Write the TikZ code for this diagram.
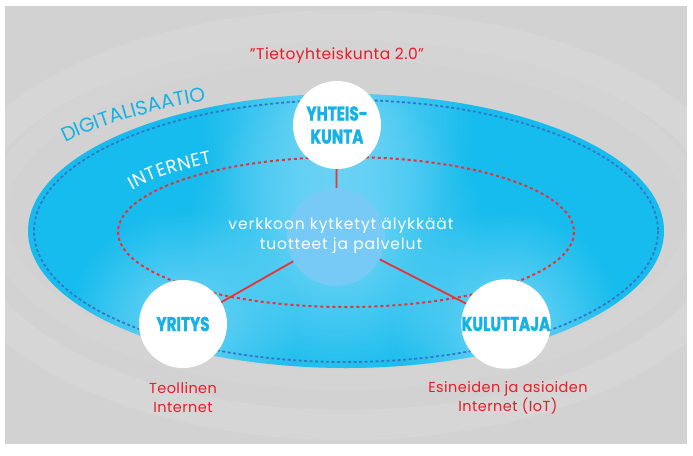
\documentclass[tikz,border=0pt]{standalone}
\usepackage{fontspec}
\setmainfont{Poppins}
\newfontfamily\hubfont[FakeStretch=0.76,FakeBold=1.5]{Poppins}
\usetikzlibrary{decorations.text,fadings}
\definecolor{bggray}{RGB}{210,210,210}
\definecolor{skyblue}{RGB}{22,188,237}
\definecolor{glowblue}{RGB}{120,214,246}
\definecolor{dotblue}{RGB}{52,120,195}
\definecolor{coreblue}{RGB}{118,202,245}
\definecolor{hubblue}{RGB}{22,178,230}
\definecolor{linkred}{RGB}{236,48,52}
\definecolor{notered}{RGB}{232,28,40}
\tikzfading[name=glowfade,inner color=transparent!0,outer color=transparent!100]

\begin{document}
\begin{tikzpicture}[x=1pt,y=-1pt,
    hub/.style={circle,fill=white,minimum size=88pt,inner sep=0pt,align=center,
      text=hubblue,font=\hubfont\bfseries\fontsize{20}{23}\selectfont},
    link/.style={draw=linkred,line width=1.8pt},
    note/.style={align=center,text=notered,
      font=\addfontfeatures{LetterSpace=3}\fontsize{14.5}{19}\selectfont}]
  \useasboundingbox (0,0) rectangle (693,455);
  % background
  \fill[bggray] (5,6) rectangle (687,444);
  \begin{scope}
    \clip (5,6) rectangle (687,444);
    \draw[white,opacity=0.1,line width=30pt] (346,225) ellipse [x radius=390, y radius=200];
    \draw[white,opacity=0.06,line width=20pt] (346,215) ellipse [x radius=350, y radius=165];
  \end{scope}
  %
  % digitalisaatio
  \fill[skyblue] (346,231) ellipse [x radius=318, y radius=137];
  \begin{scope}
    \clip (346,231) ellipse [x radius=318, y radius=137];
    \fill[glowblue,path fading=glowfade] (337,125) circle (135);
    \fill[glowblue,path fading=glowfade] (336,237) circle (150);
    \fill[glowblue,path fading=glowfade] (183,324) circle (115);
    \fill[glowblue,path fading=glowfade] (506,324) circle (115);
  \end{scope}
  \draw[dotblue,line width=1.8pt,dash pattern=on 3pt off 2.5pt]
    (346,231) ellipse [x radius=312, y radius=131];
  %
  % internet
  \draw[linkred,line width=2pt,dash pattern=on 3pt off 3pt]
    (346,232) ellipse [x radius=228, y radius=75];
  %
  \path[decorate,decoration={text along path,text align={fit to path},
      text={|\fontsize{20}{20}\selectfont\color{hubblue}|DIGITALISAATIO}}]
    (346,231) ++(218.7:360 and 141)
    arc[start angle=218.7,end angle=246.9,x radius=360,y radius=141];
  \path[decorate,decoration={text along path,text align={fit to path},
      text={|\fontsize{18.5}{18.5}\selectfont\color{white}|INTERNET}}]
    (346,232) ++(210.8:249 and 82)
    arc[start angle=210.8,end angle=237.4,x radius=249,y radius=82];
  %
  \node[circle,fill=coreblue,minimum size=98pt,inner sep=0pt] (core) at (336,237) {};
  \node[text=white,align=center,
    font=\addfontfeatures{LetterSpace=6}\fontsize{15.5}{20}\selectfont]
    (coretext) at (341,236) {verkkoon kytketyt älykkäät\\tuotteet ja palvelut};
  %
  \node[hub] (yht) at (337,125) {YHTEIS-\\KUNTA};
  \node[hub] (yri) at (183,324) {YRITYS};
  \node[hub] (kul) at (506,324) {KULUTTAJA};
  %
  \draw[link] (core) -- (yht);
  \draw[link] (core) -- (yri);
  \draw[link] (core) -- (kul);
  %
  \node[note,font=\addfontfeatures{LetterSpace=3}\fontsize{15.5}{19}\selectfont]
    (quote) at (337,56) {”Tietoyhteiskunta 2.0”};
  \node[note] (yrinote) at (183,398) {Teollinen\\Internet};
  \node[note] (kulnote) at (508,398) {Esineiden ja asioiden\\Internet (IoT)};
\end{tikzpicture}
\end{document}
